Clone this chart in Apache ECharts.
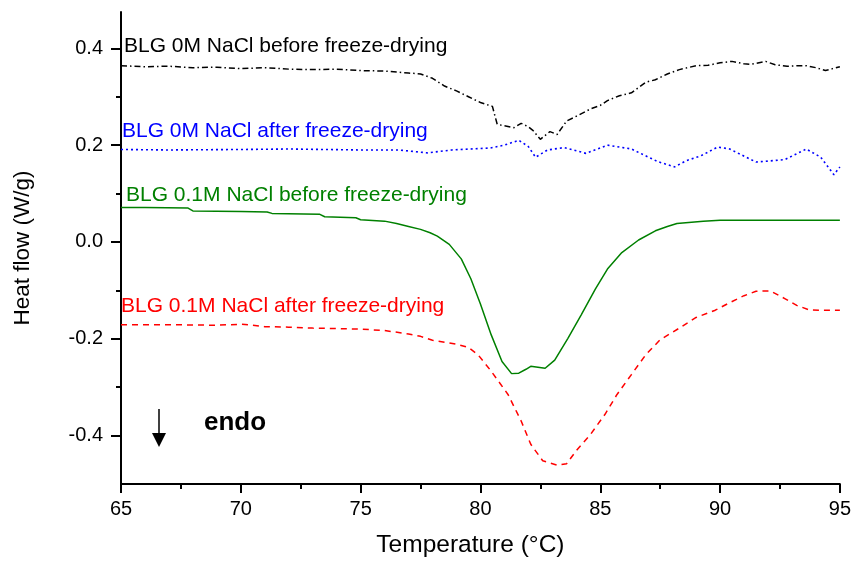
<!DOCTYPE html>
<html>
<head>
<meta charset="utf-8">
<script src="https://cdn.jsdelivr.net/npm/echarts@6/dist/echarts.min.js"></script>
<style>html,body{margin:0;padding:0;background:#fff;}#chart{width:854px;height:563px;}</style>
</head>
<body>
<div id="chart"></div>
<script>
// ---- data ----
const xTicks = [65, 70, 75, 80, 85, 90, 95];
const yTickLabels = [-0.4, -0.2, 0.0, 0.2, 0.4];
const yMinorTicks = [-0.3, -0.1, 0.1, 0.3];

const seriesNames = [
  'BLG 0M NaCl before freeze-drying',
  'BLG 0M NaCl after freeze-drying',
  'BLG 0.1M NaCl before freeze-drying',
  'BLG 0.1M NaCl after freeze-drying'
];

const blackT  = [65, 66, 67, 68, 69, 70, 71, 72, 73, 74, 75, 76, 77, 77.5, 78, 78.5, 79, 79.5, 80, 80.5, 80.7, 81, 81.4, 81.7, 82.0, 82.2, 82.5, 82.9, 83.2, 83.6, 84.1, 84.6, 85.0, 85.3, 85.8, 86.3, 86.9, 87.3, 87.8, 88.3, 89.0, 89.5, 90.0, 90.5, 91.0, 91.3, 91.9, 92.3, 92.8, 93.2, 93.6, 94.0, 94.4, 94.7, 95];
const blackHF = [0.364, 0.362, 0.363, 0.360, 0.361, 0.358, 0.360, 0.357, 0.356, 0.357, 0.354, 0.353, 0.349, 0.347, 0.338, 0.322, 0.312, 0.300, 0.288, 0.280, 0.243, 0.240, 0.236, 0.245, 0.238, 0.230, 0.212, 0.228, 0.222, 0.250, 0.262, 0.275, 0.282, 0.292, 0.302, 0.308, 0.330, 0.335, 0.347, 0.356, 0.364, 0.365, 0.370, 0.373, 0.368, 0.367, 0.373, 0.366, 0.363, 0.364, 0.364, 0.360, 0.354, 0.358, 0.362];

const blueT  = [65, 67, 70, 72, 75, 76.6, 77.8, 78.8, 80.4, 81.0, 81.6, 82.0, 82.3, 82.8, 83.5, 84.4, 85.3, 86.3, 87.4, 88.1, 88.6, 89.2, 89.9, 90.4, 91.5, 92.7, 93.6, 94.2, 94.75, 95];
const blueHF = [0.191, 0.190, 0.191, 0.192, 0.190, 0.190, 0.184, 0.190, 0.194, 0.200, 0.210, 0.197, 0.175, 0.190, 0.195, 0.183, 0.200, 0.192, 0.166, 0.155, 0.168, 0.178, 0.196, 0.192, 0.165, 0.170, 0.192, 0.175, 0.139, 0.155];

const greenT  = [65, 66, 67.8, 68, 70, 71.1, 71.3, 73.3, 73.5, 74.8, 75.0, 76.0, 76.5, 77.0, 77.5, 77.9, 78.2, 78.7, 79.2, 79.6, 80.0, 80.45, 80.9, 81.3, 81.6, 81.9, 82.1, 82.4, 82.7, 83.1, 83.65, 84.2, 84.8, 85.3, 85.9, 86.6, 87.3, 87.8, 88.2, 89.3, 90, 95];
const greenHF = [0.071, 0.071, 0.070, 0.064, 0.063, 0.062, 0.059, 0.057, 0.052, 0.050, 0.046, 0.043, 0.038, 0.032, 0.026, 0.019, 0.012, -0.005, -0.035, -0.076, -0.128, -0.192, -0.247, -0.272, -0.271, -0.263, -0.257, -0.259, -0.261, -0.244, -0.199, -0.151, -0.097, -0.056, -0.022, 0.004, 0.023, 0.032, 0.038, 0.043, 0.045, 0.045];

const redT  = [65, 67, 69, 70, 70.5, 71, 72, 73, 74, 75, 76, 77, 77.5, 78, 79, 79.5, 79.9, 80.45, 81.15, 81.7, 82.1, 82.6, 83.2, 83.6, 84.0, 84.6, 85.2, 85.7, 86.3, 86.9, 87.5, 88.3, 89.0, 89.8, 90.3, 91.0, 91.5, 92.1, 92.7, 93.2, 93.7, 94.2, 95];
const redHF = [-0.171, -0.171, -0.172, -0.170, -0.172, -0.175, -0.176, -0.178, -0.179, -0.180, -0.183, -0.190, -0.195, -0.203, -0.211, -0.218, -0.233, -0.267, -0.315, -0.370, -0.418, -0.452, -0.461, -0.458, -0.431, -0.397, -0.356, -0.315, -0.274, -0.233, -0.202, -0.178, -0.156, -0.141, -0.128, -0.111, -0.102, -0.101, -0.117, -0.131, -0.140, -0.141, -0.141];

const xTitle = 'Temperature (°C)';
const yTitle = 'Heat flow (W/g)';
const endoText = 'endo';

// ---- chart ----
const pairs = (xs, ys) => xs.map((x, i) => [x, ys[i]]);
const FONT = 'Liberation Sans, Arial, sans-serif';

const chart = echarts.init(document.getElementById('chart'), null, {renderer: 'canvas'});

const option = {
  backgroundColor: '#fff',
  animation: false,
  grid: {left: 121, right: 11, top: 12, bottom: 75, containLabel: false},
  xAxis: {
    type: 'value', min: 65, max: 95, interval: 5,
    name: xTitle, nameLocation: 'middle', nameGap: 49,
    nameTextStyle: {fontFamily: FONT, fontSize: 24.5, color: '#000', padding: [0, 20, 0, 0]},
    axisLine: {show: true, onZero: false, lineStyle: {color: '#000', width: 2}},
    axisTick: {show: true, length: 9, lineStyle: {color: '#000', width: 2}},
    minorTick: {show: true, splitNumber: 2, length: 5, lineStyle: {color: '#000', width: 2}},
    axisLabel: {fontFamily: FONT, fontSize: 20, color: '#000', margin: 15, customValues: xTicks},
    splitLine: {show: false}
  },
  yAxis: [{
    type: 'value', min: -0.5, max: 0.475,
    name: yTitle, nameLocation: 'middle', nameGap: 87, nameRotate: 90,
    nameTextStyle: {fontFamily: FONT, fontSize: 22.5, color: '#000'},
    axisLine: {show: true, onZero: false, lineStyle: {color: '#000', width: 2}},
    axisTick: {show: true, length: 10, lineStyle: {color: '#000', width: 2}, customValues: yTickLabels},
    axisLabel: {fontFamily: FONT, fontSize: 20, color: '#000', margin: 18, customValues: yTickLabels,
      formatter: v => v.toFixed(1)},
    splitLine: {show: false}
  }, {
    type: 'value', min: -0.5, max: 0.475, position: 'left',
    axisLine: {show: false},
    axisTick: {show: true, length: 5, lineStyle: {color: '#000', width: 2}, customValues: yMinorTicks},
    axisLabel: {show: false, customValues: yMinorTicks},
    splitLine: {show: false}
  }],
  series: [
    {name: seriesNames[0], type: 'line', showSymbol: false, data: pairs(blackT, blackHF),
      lineStyle: {color: '#000', width: 1.5, type: [6, 3, 1.5, 3]}, itemStyle: {color: '#000'}},
    {name: seriesNames[1], type: 'line', showSymbol: false, data: pairs(blueT, blueHF),
      lineStyle: {color: '#0000ff', width: 1.6, type: [2, 3]}, itemStyle: {color: '#0000ff'}},
    {name: seriesNames[2], type: 'line', showSymbol: false, data: pairs(greenT, greenHF),
      lineStyle: {color: '#008000', width: 1.5, type: 'solid'}, itemStyle: {color: '#008000'}},
    {name: seriesNames[3], type: 'line', showSymbol: false, data: pairs(redT, redHF),
      lineStyle: {color: '#ff0000', width: 1.5, type: [6, 5]}, itemStyle: {color: '#ff0000'}}
  ],
  graphic: [
    {type: 'text', left: 124, top: 36, style: {text: seriesNames[0], fill: '#000', font: '21px ' + FONT}},
    {type: 'text', left: 122, top: 121, style: {text: seriesNames[1], fill: '#0000ff', font: '21px ' + FONT}},
    {type: 'text', left: 126, top: 185, style: {text: seriesNames[2], fill: '#008000', font: '21px ' + FONT}},
    {type: 'text', left: 121, top: 296, style: {text: seriesNames[3], fill: '#ff0000', font: '21px ' + FONT}},
    {type: 'text', left: 204, top: 410, style: {text: endoText, fill: '#000', font: 'bold 26px ' + FONT}},
    {type: 'line', shape: {x1: 159, y1: 409, x2: 159, y2: 435}, style: {stroke: '#000', lineWidth: 1.5}},
    {type: 'polygon', shape: {points: [[152, 433], [166, 433], [159, 447]]}, style: {fill: '#000'}}
  ]
};
chart.setOption(option);
</script>
</body>
</html>
